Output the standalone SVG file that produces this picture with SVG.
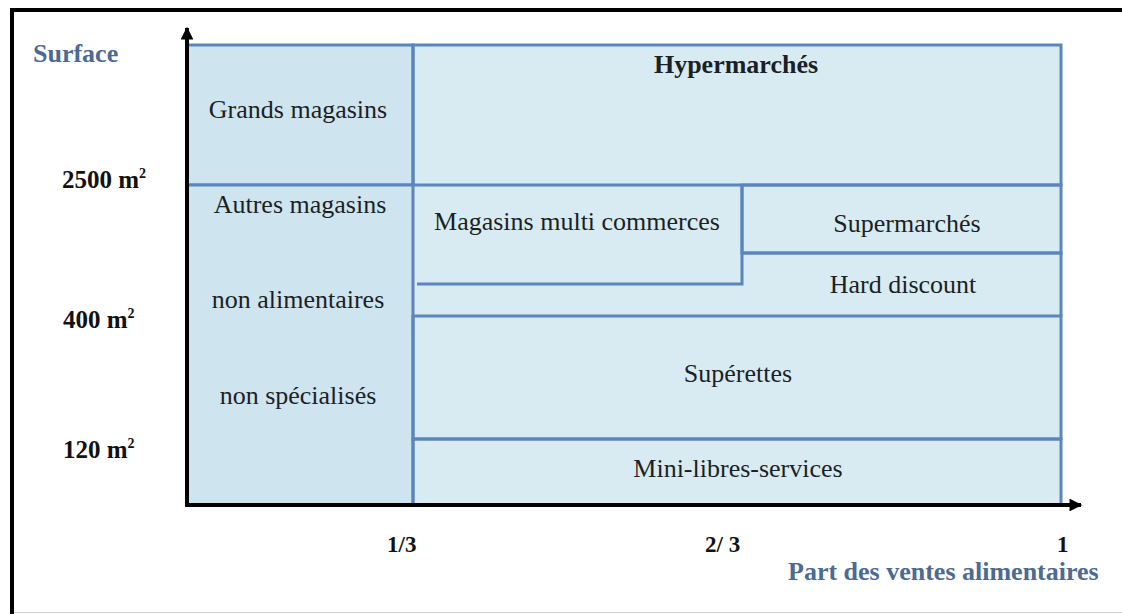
<svg xmlns="http://www.w3.org/2000/svg" width="1122" height="614" viewBox="0 0 1122 614">
  <defs>
    <marker id="arrow" viewBox="0 0 10 10" refX="9" refY="5" markerWidth="4.5" markerHeight="3.2" markerUnits="strokeWidth" orient="auto">
      <path d="M0,0 L10,5 L0,10 Z" fill="#000"/>
    </marker>
    <style>
      .cell { fill: none; stroke: #5b85bd; stroke-width: 3; }
      .left { fill: #cee4ef; stroke: #5b85bd; stroke-width: 3; }
      .lbl { font-family: "Liberation Serif", "Times New Roman", serif; font-size: 26px; fill: #1c1f24; text-anchor: middle; }
      .bold { font-weight: bold; }
      .tick { font-family: "Liberation Serif", "Times New Roman", serif; font-size: 23px; font-weight: bold; fill: #111; }
      .ytick { font-size: 25px; }
      .title { font-family: "Liberation Serif", "Times New Roman", serif; font-size: 26px; font-weight: bold; fill: #4c6a92; }
      .axis { stroke: #000; stroke-width: 4; fill: none; }
    </style>
  </defs>

  <!-- page -->
  <rect x="0" y="0" width="1122" height="614" fill="#fff"/>
  <rect x="12" y="10" width="1130" height="620" fill="none" stroke="#000" stroke-width="4"/>
  <line x1="14" y1="612.5" x2="1122" y2="612.5" stroke="#d0d0d0" stroke-width="1"/>

  <!-- chart background -->
  <rect x="187" y="45" width="874" height="460" fill="#d8ebf3"/>

  <g id="grands-magasins">
    <rect class="left" x="187" y="45" width="226" height="140"/>
    <text class="lbl" x="298" y="118">Grands magasins</text>
  </g>

  <g id="hypermarches">
    <rect class="cell" x="413" y="45" width="648" height="140"/>
    <text class="lbl bold" x="736" y="73">Hypermarchés</text>
  </g>

  <g id="autres-magasins">
    <rect class="left" x="187" y="185" width="226" height="320"/>
    <text class="lbl" x="300" y="213">Autres magasins</text>
    <text class="lbl" x="298" y="308">non alimentaires</text>
    <text class="lbl" x="298" y="404">non spécialisés</text>
  </g>

  <g id="multi-commerces">
    <path class="cell" d="M742,185 V284 H417"/>
    <text class="lbl" x="577" y="230">Magasins multi commerces</text>
  </g>

  <g id="supermarches">
    <rect class="cell" x="742" y="185" width="319" height="68"/>
    <text class="lbl" x="907" y="232">Supermarchés</text>
  </g>

  <g id="hard-discount">
    <path class="cell" d="M742,253 H1061 V316"/>
    <text class="lbl" x="903" y="293">Hard discount</text>
  </g>

  <g id="superettes">
    <rect class="cell" x="413" y="316" width="648" height="123"/>
    <text class="lbl" x="738" y="382">Supérettes</text>
  </g>

  <g id="mini-libres-services">
    <rect class="cell" x="413" y="439" width="648" height="66"/>
    <text class="lbl" x="738" y="477">Mini-libres-services</text>
  </g>

  <!-- axes -->
  <g id="connectors">
    <line class="axis" x1="187" y1="507" x2="187" y2="28" marker-end="url(#arrow)"/>
    <line class="axis" x1="185" y1="505" x2="1081" y2="505" marker-end="url(#arrow)"/>
  </g>

  <!-- axis titles and graduations -->
  <g id="y-axis-labels">
    <text class="title" x="33" y="62">Surface</text>
    <text class="tick ytick" x="62" y="188">2500 m<tspan font-size="14" dy="-10">2</tspan></text>
    <text class="tick ytick" x="63" y="328">400 m<tspan font-size="14" dy="-10">2</tspan></text>
    <text class="tick ytick" x="63" y="458">120 m<tspan font-size="14" dy="-10">2</tspan></text>
  </g>

  <g id="x-axis-labels">
    <text class="tick" x="387" y="552">1/3</text>
    <text class="tick" x="705" y="552">2/ 3</text>
    <text class="tick" x="1057" y="552">1</text>
    <text class="title" x="788" y="580" font-size="25">Part des ventes alimentaires</text>
  </g>
</svg>
